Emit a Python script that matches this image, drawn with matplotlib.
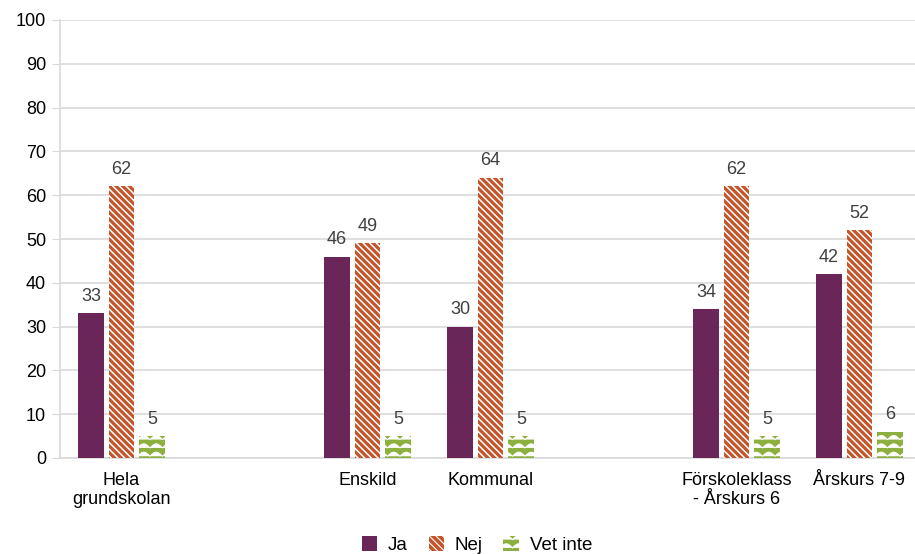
import warnings
import numpy as np
import matplotlib
matplotlib.use("Agg")
import matplotlib.pyplot as plt
import matplotlib.hatch as mhatch
from matplotlib.path import Path
from matplotlib.patches import Patch

# ---- data ----
categories = ["Hela\ngrundskolan", "", "Enskild", "Kommunal", "",
              "Förskoleklass\n- Årskurs 6", "Årskurs 7-9"]
ja = [33, None, 46, 30, None, 34, 42]
nej = [62, None, 49, 64, None, 62, 52]
vet_inte = [5, None, 5, 5, None, 5, 6]
series_names = ["Ja", "Nej", "Vet inte"]
yticks = [0, 10, 20, 30, 40, 50, 60, 70, 80, 90, 100]

# ---- custom wavy hatch ----
class WaveHatch(mhatch.HatchPatternBase):
    def __init__(self, hatch, density):
        self.num_rows = int(hatch.count('w') * density)
        self.npts = 8 * 6 + 1
        self.num_vertices = self.num_rows * self.npts

    def set_vertices_and_codes(self, vertices, codes):
        ys = np.linspace(0, 1, self.num_rows, False) + 0.5 / self.num_rows
        xs = np.linspace(0, 1, self.npts)
        amp = 0.25 / self.num_rows
        for i, y in enumerate(ys):
            s = slice(i * self.npts, (i + 1) * self.npts)
            vertices[s, 0] = xs
            vertices[s, 1] = y + amp * np.abs(np.sin(np.pi * 8 * xs)) * 2 - amp
            codes[s] = Path.LINETO
            codes[i * self.npts] = Path.MOVETO

mhatch._hatch_types.append(WaveHatch)
mhatch._validate_hatch_pattern = lambda h: None
warnings.filterwarnings("ignore")

plt.rcParams['font.family'] = ['Liberation Sans', 'DejaVu Sans']
plt.rcParams['hatch.color'] = 'white'

c_ja = "#6a2559"
c_nej = "#c4552a"
c_vet = "#8cb040"
h_nej = '\\' * 5
h_vet = 'ww'
FS = 13

fig = plt.figure(figsize=(9.15, 5.54), dpi=100)
W, H = 915, 554
ax = fig.add_axes([60 / W, (H - 458) / H, 861 / W, 438 / H])

x = np.arange(len(categories))
pitch = 0.248
width = 0.211

def draw(vals, off, color, hatch, hlw):
    plt.rcParams['hatch.linewidth'] = hlw
    xs = [xi + off for xi, v in zip(x, vals) if v is not None]
    vs = [v for v in vals if v is not None]
    bars = ax.bar(xs, vs, width=width, color=color, hatch=hatch,
                  edgecolor='white', linewidth=0, zorder=3)
    for xi, v in zip(xs, vs):
        ax.annotate(str(v), (xi, v), xytext=(0, 6), textcoords='offset points',
                    ha='center', va='bottom', fontsize=FS, color='#404040')
    return bars

draw(ja, -pitch, c_ja, None, 1.0)
draw(nej, 0, c_nej, h_nej, 1.1)
draw(vet_inte, pitch, c_vet, h_vet, 0.7)

ax.set_xlim(-0.5, len(categories) - 0.5)
ax.set_ylim(0, 100)
ax.set_yticks(yticks)
ax.set_yticklabels([str(t) for t in yticks], fontsize=FS)
ax.set_xticks(x)
ax.set_xticklabels(categories, fontsize=FS, linespacing=1.15)
ax.tick_params(axis='x', length=0, pad=10)
ax.tick_params(axis='y', length=6, color='#d9d9d9', pad=4)
ax.yaxis.grid(True, color='#d9d9d9', linewidth=1.2, zorder=0)
ax.set_axisbelow(True)
for s in ['top', 'right']:
    ax.spines[s].set_visible(False)
ax.spines['left'].set_color('#d9d9d9')
ax.spines['left'].set_linewidth(1.2)
ax.spines['bottom'].set_color('#d9d9d9')
ax.spines['bottom'].set_linewidth(1.2)

plt.rcParams['hatch.linewidth'] = 0.8
handles = [Patch(facecolor=c_ja, label="Ja"),
           Patch(facecolor=c_nej, hatch=h_nej, edgecolor='white', linewidth=0, label="Nej"),
           Patch(facecolor=c_vet, hatch=h_vet, edgecolor='white', linewidth=0, label="Vet inte")]
fig.legend(handles=handles, loc='center', bbox_to_anchor=(477 / W, 1 - 545 / H),
           ncol=3, frameon=False, fontsize=13.5, handlelength=0.8, handleheight=0.8,
           handletextpad=0.6, columnspacing=1.1)

fig.savefig("out.png", dpi=100)
